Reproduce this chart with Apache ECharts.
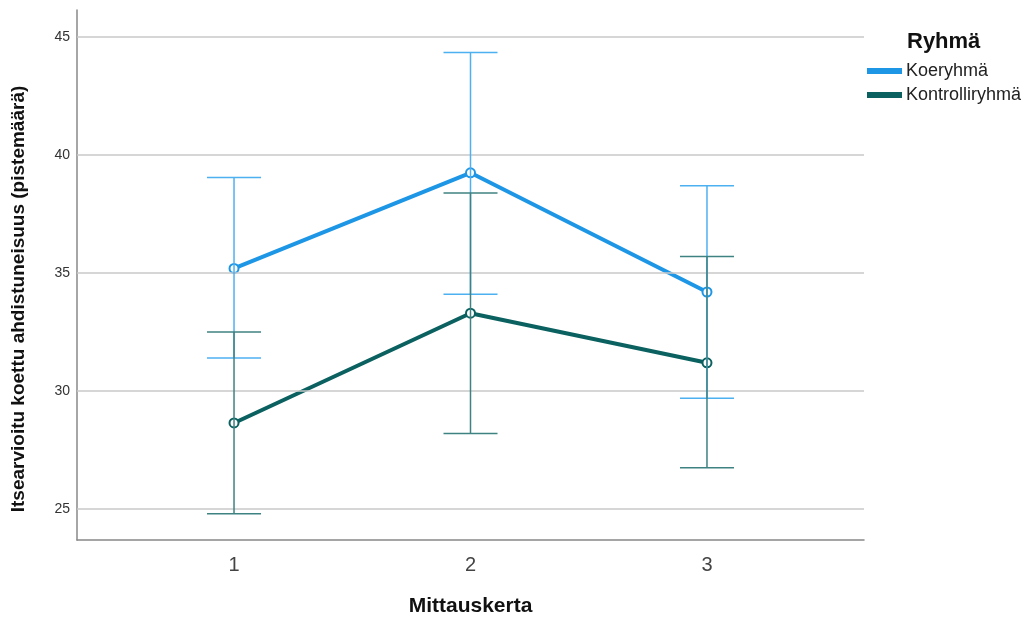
<!DOCTYPE html>
<html><head><meta charset="utf-8">
<script src="https://cdn.jsdelivr.net/npm/echarts@6/dist/echarts.min.js"></script>
<style>html,body{margin:0;padding:0;background:#fff}#c{width:1024px;height:619px}</style>
</head><body><div id="c"></div>
<script>
const categories = [1, 2, 3];
const seriesNames = ['Koeryhmä', 'Kontrolliryhmä'];
const koeMean = [35.2, 39.25, 34.2];
const koeLow = [31.4, 34.1, 29.7];
const koeHigh = [39.05, 44.35, 38.7];
const kontMean = [28.65, 33.3, 31.2];
const kontLow = [24.8, 28.2, 26.75];
const kontHigh = [32.5, 38.4, 35.7];
const yTicks = [25, 30, 35, 40, 45];
const yTitle = 'Itsearvioitu koettu ahdistuneisuus (pistemäärä)';
const xTitle = 'Mittauskerta';
const legendTitle = 'Ryhmä';

const colors = ['#1e96e6', '#0b6060'];
const barColors = ['#4db0f0', '#3f8282'];

function errSeries(name, low, high, color) {
  return {
    type: 'custom', name: name, z: 5,
    data: categories.map((c, i) => [c, low[i], high[i]]),
    renderItem: function (params, api) {
      const x = api.value(0);
      const p1 = api.coord([x, api.value(1)]);
      const p2 = api.coord([x, api.value(2)]);
      const w = 27;
      const st = { stroke: color, lineWidth: 1.5 };
      return { type: 'group', children: [
        { type: 'line', shape: { x1: p1[0], y1: p1[1], x2: p2[0], y2: p2[1] }, style: st },
        { type: 'line', shape: { x1: p1[0] - w, y1: p1[1], x2: p1[0] + w, y2: p1[1] }, style: st },
        { type: 'line', shape: { x1: p2[0] - w, y1: p2[1], x2: p2[0] + w, y2: p2[1] }, style: st }
      ]};
    }
  };
}

function lineSeries(name, mean, color) {
  return {
    type: 'line', name: name, z: 4,
    data: categories.map((c, i) => [c, mean[i]]),
    symbol: 'emptyCircle', symbolSize: 9,
    lineStyle: { color: color, width: 4 },
    itemStyle: { color: color, borderColor: color, borderWidth: 1.5 }
  };
}

const chart = echarts.init(document.getElementById('c'));
chart.setOption({
  animation: false,
  textStyle: { fontFamily: 'Liberation Sans, Arial, sans-serif' },
  title: { text: legendTitle, left: 902, top: 26, textStyle: { fontSize: 22, fontWeight: 'bold', color: '#111' } },
  graphic: [{
    type: 'text', x: 19, y: 299, rotation: Math.PI / 2,
    style: { text: yTitle, fontSize: 19, fontWeight: 'bold', fill: '#111', align: 'center', verticalAlign: 'middle',
      fontFamily: 'Liberation Sans, Arial, sans-serif' }
  }],
  legend: {
    orient: 'vertical', left: 862, top: 57, itemGap: 6, itemWidth: 33, itemHeight: 4,
    data: seriesNames.map(n => ({ name: n, icon: 'rect' })),
    textStyle: { fontSize: 18, color: '#222', padding: [0, 0, 0, 0] }
  },
  grid: { left: 77, right: 160, top: 10, bottom: 79, outerBoundsMode: 'none', containLabel: false },
  xAxis: {
    type: 'value', min: 0.336, max: 3.664,
    name: xTitle, nameLocation: 'middle', nameGap: 56,
    nameTextStyle: { fontSize: 21, fontWeight: 'bold', color: '#111' },
    axisLine: { show: true, lineStyle: { color: '#888', width: 1.5 } },
    axisTick: { show: false },
    splitLine: { show: false },
    axisLabel: { fontSize: 20, color: '#444', margin: 15, customValues: categories, formatter: v => String(v) }
  },
  yAxis: {
    type: 'value', min: 23.69, max: 46.15,
    axisLine: { show: true, lineStyle: { color: '#888', width: 1.5 } },
    axisTick: { show: false, customValues: yTicks },
    axisLabel: { fontSize: 14, color: '#333', margin: 7, customValues: yTicks },
    splitLine: { show: false }
  },
  series: [
    {
      type: 'line', name: '_grid', silent: true, data: [],
      markLine: { silent: true, symbol: 'none', label: { show: false },
        lineStyle: { color: '#c8c8c8', width: 1.5, type: 'solid' },
        data: yTicks.map(v => ({ yAxis: v })) }
    },
    lineSeries(seriesNames[0], koeMean, colors[0]),
    lineSeries(seriesNames[1], kontMean, colors[1]),
    errSeries('_e1', koeLow, koeHigh, barColors[0]),
    errSeries('_e2', kontLow, kontHigh, barColors[1])
  ]
});
</script></body></html>
